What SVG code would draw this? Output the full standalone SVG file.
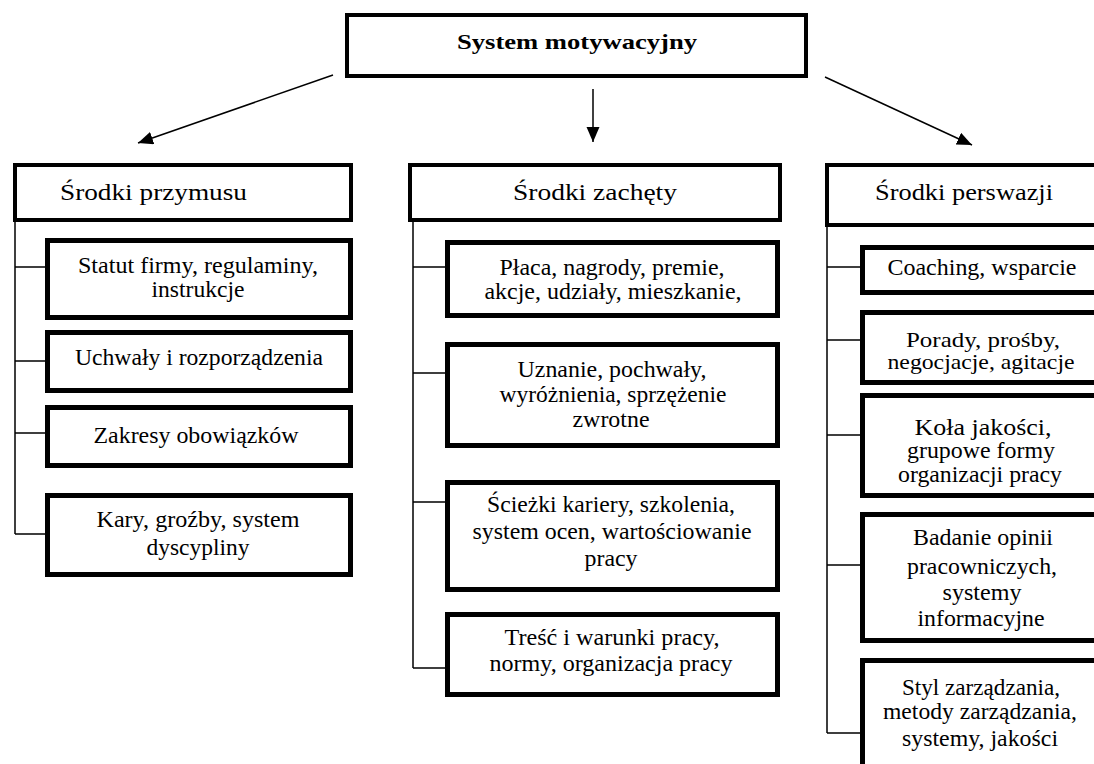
<svg xmlns="http://www.w3.org/2000/svg" width="1094" height="764" viewBox="0 0 1094 764" font-family="'Liberation Serif', 'Times New Roman', serif">
<defs>
<style>
.box{fill:#fff;stroke:#000;stroke-width:4}
.sub{fill:#fff;stroke:#000;stroke-width:5}
.con{fill:none;stroke:#000;stroke-width:1.5}
.arr{fill:none;stroke:#000;stroke-width:1.5}
text{font-family:'Liberation Serif','Times New Roman',serif;font-size:23px;fill:#000}
.c{text-anchor:middle}
.title{font-weight:bold;font-size:22px}
.tight{font-size:21px}
</style>
<marker id="ah" markerUnits="userSpaceOnUse" markerWidth="16" markerHeight="14" refX="15" refY="6.5" orient="auto">
<path d="M0,0 L15,6.5 L0,13 Z" fill="#000"/>
</marker>
</defs>
<rect width="1094" height="764" fill="#fff"/>

<g id="connectors">
<line class="arr" x1="333" y1="75" x2="138" y2="143" marker-end="url(#ah)"/>
<line class="arr" x1="593" y1="89" x2="593" y2="142" marker-end="url(#ah)"/>
<line class="arr" x1="825" y1="77" x2="972" y2="145" marker-end="url(#ah)"/>
<path class="con" d="M15,222 V534 M15,267 H46 M15,361 H46 M15,433 H46 M15,534 H46"/>
<path class="con" d="M413,222 V668 M413,267 H446 M413,373 H446 M413,502 H446 M413,668 H446"/>
<path class="con" d="M827,227 V733 M827,267 H861 M827,340 H861 M827,435 H861 M827,565 H861 M827,733 H861"/>
</g>

<g id="root">
<rect class="box" x="347" y="15" width="459" height="61"/>
<text class="c title" x="577" y="49" textLength="240" lengthAdjust="spacingAndGlyphs">System motywacyjny</text>
</g>

<g id="przymus">
<rect class="box" x="15" y="165" width="336" height="55"/>
<text x="60" y="200" textLength="187" lengthAdjust="spacingAndGlyphs">Środki przymusu</text>
</g>
<g id="p1">
<rect class="sub" x="47.5" y="240.5" width="303" height="77"/>
<text class="c" x="198" y="273" textLength="240" lengthAdjust="spacingAndGlyphs">Statut firmy, regulaminy,</text>
<text class="c" x="198" y="297" textLength="93" lengthAdjust="spacingAndGlyphs">instrukcje</text>
</g>
<g id="p2">
<rect class="sub" x="47.5" y="332.5" width="303" height="58"/>
<text class="c" x="199" y="365" textLength="248" lengthAdjust="spacingAndGlyphs">Uchwały i rozporządzenia</text>
</g>
<g id="p3">
<rect class="sub" x="47.5" y="407.5" width="303" height="58"/>
<text class="c" x="196" y="443" textLength="205" lengthAdjust="spacingAndGlyphs">Zakresy obowiązków</text>
</g>
<g id="p4">
<rect class="sub" x="47.5" y="495.5" width="303" height="79"/>
<text class="c" x="198" y="527" textLength="203" lengthAdjust="spacingAndGlyphs">Kary, groźby, system</text>
<text class="c" x="198" y="555" textLength="103" lengthAdjust="spacingAndGlyphs">dyscypliny</text>
</g>

<g id="zacheta">
<rect class="box" x="410" y="165" width="370" height="55"/>
<text x="513" y="200" textLength="164" lengthAdjust="spacingAndGlyphs">Środki zachęty</text>
</g>
<g id="z1">
<rect class="sub" x="447.5" y="242.5" width="330" height="73"/>
<text class="c" x="612" y="275" textLength="225" lengthAdjust="spacingAndGlyphs">Płaca, nagrody, premie,</text>
<text class="c" x="613" y="299" textLength="257" lengthAdjust="spacingAndGlyphs">akcje, udziały, mieszkanie,</text>
</g>
<g id="z2">
<rect class="sub" x="447.5" y="344.5" width="330" height="101"/>
<text class="c" x="612" y="377" textLength="189" lengthAdjust="spacingAndGlyphs">Uznanie, pochwały,</text>
<text class="c" x="613" y="402" textLength="227" lengthAdjust="spacingAndGlyphs">wyróżnienia, sprzężenie</text>
<text class="c" x="611" y="427" textLength="77" lengthAdjust="spacingAndGlyphs">zwrotne</text>
</g>
<g id="z3">
<rect class="sub" x="447.5" y="482.5" width="330" height="107"/>
<text class="c" x="611" y="512" textLength="248" lengthAdjust="spacingAndGlyphs">Ścieżki kariery, szkolenia,</text>
<text class="c" x="612" y="539" textLength="279" lengthAdjust="spacingAndGlyphs">system ocen, wartościowanie</text>
<text class="c" x="611" y="566" textLength="53" lengthAdjust="spacingAndGlyphs">pracy</text>
</g>
<g id="z4">
<rect class="sub" x="447.5" y="614.5" width="330" height="80"/>
<text class="c" x="612" y="645" textLength="215" lengthAdjust="spacingAndGlyphs">Treść i warunki pracy,</text>
<text class="c" x="611" y="671" textLength="243" lengthAdjust="spacingAndGlyphs">normy, organizacja  pracy</text>
</g>

<g id="perswazja">
<rect class="box" x="827" y="165" width="300" height="60"/>
<text x="875" y="200" textLength="178" lengthAdjust="spacingAndGlyphs">Środki perswazji</text>
</g>
<g id="r1">
<rect class="sub" x="862.5" y="247.5" width="260" height="45"/>
<text class="c" x="982" y="275" textLength="189" lengthAdjust="spacingAndGlyphs">Coaching, wsparcie</text>
</g>
<g id="r2">
<rect class="sub" x="862.5" y="312.5" width="260" height="70"/>
<text class="c tight" x="983" y="347" textLength="154" lengthAdjust="spacingAndGlyphs">Porady, prośby,</text>
<text class="c tight" x="981" y="369" textLength="187" lengthAdjust="spacingAndGlyphs">negocjacje, agitacje</text>
</g>
<g id="r3">
<rect class="sub" x="862.5" y="395.5" width="260" height="100"/>
<text class="c" x="983" y="435" textLength="137" lengthAdjust="spacingAndGlyphs">Koła jakości,</text>
<text class="c" x="981" y="458" textLength="148" lengthAdjust="spacingAndGlyphs">grupowe formy</text>
<text class="c" x="980" y="482" textLength="164" lengthAdjust="spacingAndGlyphs">organizacji pracy</text>
</g>
<g id="r4">
<rect class="sub" x="862.5" y="514.5" width="260" height="126"/>
<text class="c" x="983" y="545" textLength="140" lengthAdjust="spacingAndGlyphs">Badanie opinii</text>
<text class="c" x="982" y="574" textLength="150" lengthAdjust="spacingAndGlyphs">pracowniczych,</text>
<text class="c" x="982" y="600" textLength="79" lengthAdjust="spacingAndGlyphs">systemy</text>
<text class="c" x="981" y="626" textLength="127" lengthAdjust="spacingAndGlyphs">informacyjne</text>
</g>
<g id="r5">
<rect class="sub" x="862.5" y="660.5" width="260" height="115"/>
<text class="c" x="981" y="695" textLength="158" lengthAdjust="spacingAndGlyphs">Styl zarządzania,</text>
<text class="c" x="980" y="719" textLength="194" lengthAdjust="spacingAndGlyphs">metody zarządzania,</text>
<text class="c" x="980" y="746" textLength="156" lengthAdjust="spacingAndGlyphs">systemy, jakości</text>
</g>
</svg>
